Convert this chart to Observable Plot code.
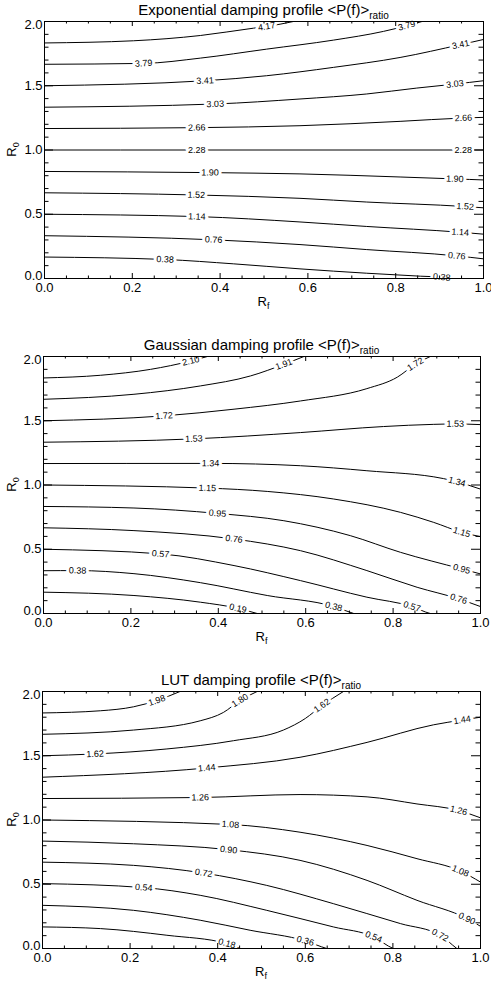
<!DOCTYPE html>
<html><head><meta charset="utf-8">
<script src="https://cdn.jsdelivr.net/npm/d3@7"></script>
<script src="https://cdn.jsdelivr.net/npm/@observablehq/plot@0.6"></script>
<style>
body{margin:0;background:#fff;}
#root{position:relative;width:491px;height:984px;overflow:hidden;}
.panel{position:absolute;left:0;}
.panel svg{display:block;}
</style></head><body><div id="root"></div>
<script>
// ---------------- DATA ----------------
const xMajor = [0, 0.2, 0.4, 0.6, 0.8, 1.0];
const xMinor = [0.05,0.1,0.15,0.25,0.3,0.35,0.45,0.5,0.55,0.65,0.7,0.75,0.85,0.9,0.95];
const yMajor = [0, 0.5, 1.0, 1.5, 2.0];
const yMinor = [0.1,0.2,0.3,0.4,0.6,0.7,0.8,0.9,1.1,1.2,1.3,1.4,1.6,1.7,1.8,1.9];

// Exponential damping profile
const expLevels = [0.38, 0.76, 1.14, 1.52, 1.90, 2.28, 2.66, 3.03, 3.41, 3.79, 4.17];
const expLines = [
  [[0,0.167],[0.275,0.148],[0.431,0.114],[0.582,0.075],[0.734,0.041],[0.856,0.018],[0.905,0.01],[0.95,-0.01]],
  [[0,0.333],[0.385,0.301],[0.582,0.264],[0.734,0.225],[0.939,0.176],[1,0.153]],
  [[0,0.5],[0.347,0.482],[0.582,0.44],[0.734,0.405],[0.947,0.36],[1,0.345]],
  [[0,0.667],[0.346,0.65],[0.582,0.624],[0.734,0.595],[0.958,0.56],[1,0.55]],
  [[0,0.833],[0.377,0.824],[0.582,0.814],[0.81,0.79],[0.935,0.775],[1,0.767]],
  [[0,1.0],[0.347,1.0],[0.954,1.0],[1,1.0]],
  [[0,1.167],[0.347,1.174],[0.582,1.189],[0.81,1.223],[0.954,1.249],[1,1.254]],
  [[0,1.333],[0.389,1.358],[0.582,1.397],[0.734,1.436],[0.848,1.482],[0.935,1.513],[1,1.539]],
  [[0,1.5],[0.366,1.539],[0.506,1.578],[0.658,1.643],[0.81,1.72],[0.948,1.82],[1,1.86]],
  [[0,1.667],[0.226,1.674],[0.355,1.715],[0.506,1.785],[0.658,1.855],[0.772,1.923],[0.825,1.967],[0.86,2.0]],
  [[0,1.833],[0.203,1.85],[0.355,1.891],[0.476,1.948],[0.506,1.961],[0.567,2.0]]
];
const expLabelRf = [[0.275,0.905],[0.385,0.939],[0.347,0.947],[0.346,0.958],[0.377,0.935],[0.347,0.954],[0.347,0.954],[0.389,0.935],[0.366,0.948],[0.226,0.825],[0.506]];

// Gaussian damping profile
const gauLevels = [0.19, 0.38, 0.57, 0.76, 0.95, 1.15, 1.34, 1.53, 1.72, 1.91, 2.10];
const gauLines = [
  [[0,0.166],[0.207,0.14],[0.359,0.088],[0.445,0.04],[0.489,0.0],[0.5,-0.01]],
  [[0,0.333],[0.078,0.334],[0.207,0.31],[0.359,0.24],[0.512,0.14],[0.664,0.054],[0.71,0.0],[0.72,-0.01]],
  [[0,0.5],[0.268,0.464],[0.436,0.373],[0.588,0.256],[0.74,0.127],[0.843,0.054],[0.885,0.0],[0.9,-0.01]],
  [[0,0.667],[0.207,0.645],[0.436,0.58],[0.588,0.489],[0.74,0.334],[0.855,0.204],[0.95,0.114],[1,0.054]],
  [[0,0.833],[0.207,0.821],[0.398,0.779],[0.55,0.722],[0.702,0.606],[0.817,0.476],[0.957,0.347],[1,0.308]],
  [[0,1.0],[0.375,0.976],[0.512,0.95],[0.664,0.891],[0.817,0.787],[0.893,0.709],[0.957,0.632],[1,0.598]],
  [[0,1.167],[0.382,1.168],[0.588,1.15],[0.74,1.111],[0.915,1.05],[0.946,1.025],[1,0.968]],
  [[0,1.333],[0.344,1.359],[0.588,1.408],[0.778,1.455],[0.893,1.472],[0.942,1.475],[1,1.47]],
  [[0,1.5],[0.276,1.538],[0.436,1.59],[0.588,1.654],[0.74,1.75],[0.81,1.84],[0.851,1.94],[0.885,2.0]],
  [[0,1.667],[0.207,1.706],[0.359,1.771],[0.474,1.849],[0.55,1.939],[0.596,2.0]],
  [[0,1.833],[0.131,1.854],[0.245,1.9],[0.337,1.965],[0.375,2.0]]
];
const gauLabelRf = [[0.445],[0.078,0.664],[0.268,0.843],[0.436,0.95],[0.398,0.957],[0.375,0.957],[0.382,0.946],[0.344,0.942],[0.276,0.851],[0.55],[0.337]];

// LUT damping profile
const lutLevels = [0.18, 0.36, 0.54, 0.72, 0.90, 1.08, 1.26, 1.44, 1.62, 1.80, 1.98];
const lutLines = [
  [[0,0.168],[0.132,0.155],[0.284,0.103],[0.421,0.039],[0.451,0.0],[0.46,-0.01]],
  [[0,0.336],[0.208,0.297],[0.36,0.22],[0.474,0.142],[0.6,0.059],[0.649,0.0],[0.66,-0.01]],
  [[0,0.505],[0.231,0.474],[0.36,0.414],[0.512,0.297],[0.664,0.168],[0.756,0.09],[0.801,0.0],[0.81,-0.01]],
  [[0,0.672],[0.208,0.647],[0.368,0.587],[0.512,0.491],[0.664,0.349],[0.817,0.194],[0.908,0.103],[0.946,0.0],[0.95,-0.01]],
  [[0,0.836],[0.208,0.815],[0.425,0.769],[0.588,0.686],[0.741,0.53],[0.855,0.375],[0.969,0.233],[1,0.173]],
  [[0,1.0],[0.429,0.965],[0.588,0.905],[0.741,0.802],[0.855,0.699],[0.954,0.603],[1,0.517]],
  [[0,1.167],[0.36,1.175],[0.588,1.198],[0.741,1.18],[0.855,1.125],[0.95,1.074],[1,1.017]],
  [[0,1.333],[0.375,1.405],[0.588,1.488],[0.741,1.604],[0.893,1.741],[0.958,1.778],[1,1.8]],
  [[0,1.5],[0.12,1.514],[0.284,1.553],[0.436,1.617],[0.55,1.7],[0.6,1.79],[0.638,1.89],[0.687,2.0]],
  [[0,1.667],[0.208,1.7],[0.36,1.772],[0.413,1.837],[0.451,1.93],[0.49,2.0]],
  [[0,1.833],[0.132,1.85],[0.208,1.881],[0.261,1.93],[0.314,2.0]]
];
const lutLabelRf = [[0.421],[0.6],[0.231,0.756],[0.368,0.908],[0.425,0.969],[0.429,0.954],[0.36,0.95],[0.375,0.958],[0.12,0.638],[0.451],[0.261]];

const titles = ["Exponential damping profile <P(f)>", "Gaussian damping profile <P(f)>", "LUT damping profile <P(f)>"];

// ---------------- DRAWING ----------------
const FONT = "'Liberation Sans', Arial, Helvetica, sans-serif";
const W = 491;

function interp(pts, x) {
  for (let j = 0; j < pts.length - 1; j++) {
    const [x0, y0] = pts[j], [x1, y1] = pts[j + 1];
    if (x >= x0 && x <= x1) return x1 === x0 ? y0 : y0 + (y1 - y0) * (x - x0) / (x1 - x0);
  }
  return x < pts[0][0] ? pts[0][1] : pts[pts.length - 1][1];
}

function drawPanel({title, levels, lines, labelRf, top, height, mt, mb, ml, mr}) {
  const fw = W - ml - mr, fh = height - mt - mb;
  const kx = fw, ky = fh / 2;
  const fmt = d3.format(".2f");
  const lineData = lines.flatMap((pts, i) => pts.map(([rf, r0]) => ({level: levels[i], rf, r0})));
  const labels = labelRf.flatMap((xs, i) => xs.map(rf => {
    const pts = lines[i];
    const xa = Math.max(pts[0][0], rf - 0.015), xb = Math.min(pts[pts.length - 1][0], rf + 0.015);
    const ya = interp(pts, xa), yb = interp(pts, xb);
    const angle = -Math.atan2((yb - ya) * ky, (xb - xa) * kx) * 180 / Math.PI;
    return {level: levels[i], rf, r0: interp(pts, rf), angle};
  }));
  const tickStyle = {stroke: "black", strokeWidth: 1};
  const yAxisOpts = {tickSize: 0, tickPadding: 2, tickFormat: d3.format(".1f"), fontSize: 13, fill: "black"};
  const svg = Plot.plot({
    width: W, height, marginTop: mt, marginBottom: mb, marginLeft: ml, marginRight: mr,
    style: {fontFamily: FONT, fontSize: "13px", background: "white", color: "black", overflow: "visible"},
    x: {domain: [0, 1]},
    y: {domain: [0, 2]},
    marks: [
      Plot.line(lineData, {x: "rf", y: "r0", z: "level", stroke: "black", strokeWidth: 1, curve: "monotone-x", clip: true}),
      Plot.text(labels, {x: "rf", y: "r0", text: d => fmt(d.level), rotate: "angle", fontSize: 9, fill: "black",
        stroke: "white", strokeWidth: 6, paintOrder: "stroke", fontFamily: FONT}),
      Plot.frame({stroke: "black", strokeWidth: 1}),
      Plot.tickX(xMajor, {x: d => d, insetTop: fh - 5, ...tickStyle}),
      Plot.tickX(xMajor, {x: d => d, insetBottom: fh - 5, ...tickStyle}),
      Plot.tickX(xMinor, {x: d => d, insetTop: fh - 2.5, ...tickStyle}),
      Plot.tickX(xMinor, {x: d => d, insetBottom: fh - 2.5, ...tickStyle}),
      Plot.tickY(yMajor, {y: d => d, insetRight: fw - 9, ...tickStyle}),
      Plot.tickY(yMajor, {y: d => d, insetLeft: fw - 9, ...tickStyle}),
      Plot.tickY(yMinor, {y: d => d, insetRight: fw - 4.5, ...tickStyle}),
      Plot.tickY(yMinor, {y: d => d, insetLeft: fw - 4.5, ...tickStyle}),
      Plot.axisX(xMajor, {tickSize: 0, tickPadding: 4, tickFormat: d3.format(".1f"), fontSize: 13, fill: "black", label: null}),
      Plot.axisY([0.5, 1.0, 1.5], {...yAxisOpts, label: null}),
      Plot.axisY([0], {...yAxisOpts, dy: -3, label: null}),
      Plot.axisY([2], {...yAxisOpts, dy: 3, label: null})
    ]
  });
  const s = d3.select(svg);
  // title
  const t = s.append("text").attr("x", ml + fw / 2).attr("y", mt - 6.5)
    .attr("text-anchor", "middle").attr("font-size", 15).attr("font-family", FONT).attr("fill", "black");
  t.append("tspan").text(title);
  t.append("tspan").attr("font-size", 10).attr("dy", 4).text("ratio");
  // x label
  const xl = s.append("text").attr("x", ml + fw / 2).attr("y", mt + fh + 28)
    .attr("text-anchor", "middle").attr("font-size", 13).attr("font-family", FONT).attr("fill", "black");
  xl.append("tspan").text("R");
  xl.append("tspan").attr("font-size", 9).attr("dy", 3).text("f");
  // y label
  const yl = s.append("text").attr("transform", `translate(16,${mt + fh / 2}) rotate(-90)`)
    .attr("text-anchor", "middle").attr("font-size", 13).attr("font-family", FONT).attr("fill", "black");
  yl.append("tspan").text("R");
  yl.append("tspan").attr("font-size", 9).attr("dy", 3).text("0");

  const div = document.createElement("div");
  div.className = "panel";
  div.style.top = top + "px";
  div.appendChild(svg);
  document.getElementById("root").appendChild(div);
}

drawPanel({title: titles[0], levels: expLevels, lines: expLines, labelRf: expLabelRf, top: 0, height: 320, mt: 21, mb: 42, ml: 44, mr: 8});
drawPanel({title: titles[1], levels: gauLevels, lines: gauLines, labelRf: gauLabelRf, top: 320, height: 335, mt: 36, mb: 42, ml: 43, mr: 11});
drawPanel({title: titles[2], levels: lutLevels, lines: lutLines, labelRf: lutLabelRf, top: 655, height: 329, mt: 36, mb: 36, ml: 42, mr: 11});
</script>
</body></html>
